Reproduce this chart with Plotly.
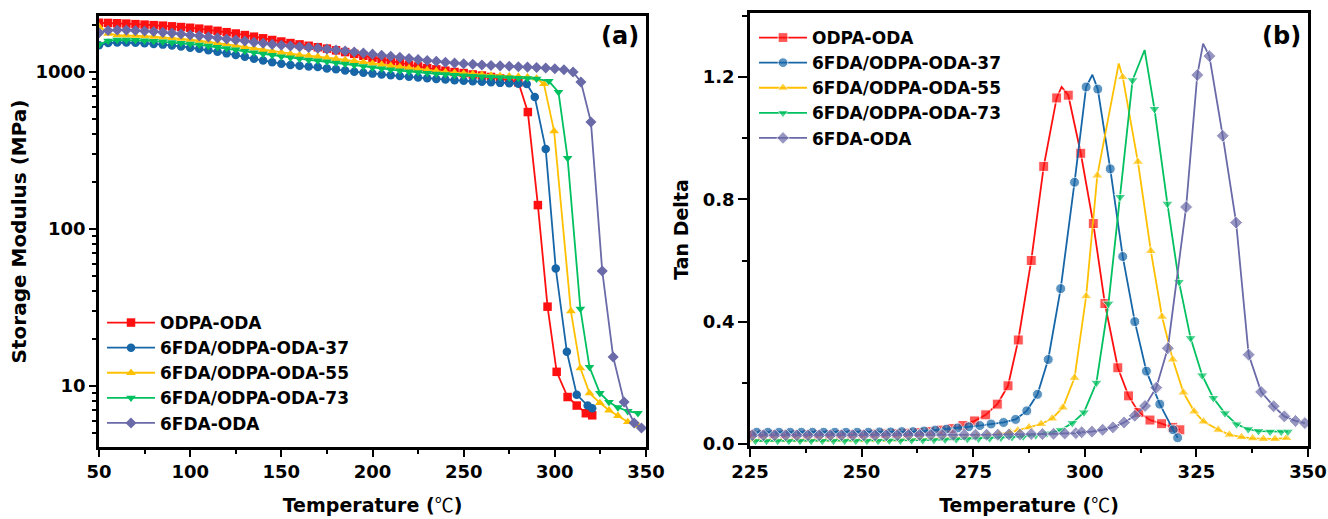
import plotly.graph_objects as go

W, H = 1328, 519

NAMES = ["ODPA-ODA", "6FDA/ODPA-ODA-37", "6FDA/ODPA-ODA-55", "6FDA/ODPA-ODA-73", "6FDA-ODA"]
COLORS = ["#FF1010", "#1766A8", "#FFC000", "#00C060", "#6A6AA8"]
SYMBOLS = ["square", "circle", "triangle-up", "triangle-down", "diamond"]

# ---------------- (a) storage modulus, MPa ----------------
SM_T_ODPA = [50, 55, 60, 65, 70, 75, 80, 85, 90, 95, 100, 105, 110, 115, 120, 125, 130, 135, 140, 145,
             150, 155, 160, 165, 170, 175, 180, 185, 190, 195, 200, 205, 210, 215, 220, 225, 230, 235, 240, 245,
             250, 255, 260, 265, 270, 275, 280, 285.2, 290.7, 296, 301, 307, 312, 317, 320.5]
SM_V_ODPA = [2060, 2055, 2045, 2035, 2020, 2005, 1990, 1975, 1955, 1935, 1915, 1890, 1860, 1830, 1795, 1760, 1720, 1680, 1640, 1600,
             1565, 1530, 1500, 1470, 1440, 1410, 1375, 1340, 1305, 1270, 1235, 1200, 1170, 1140, 1110, 1085, 1060, 1040, 1020, 1000,
             985, 965, 950, 930, 910, 885, 860, 556, 142, 32, 12.3, 8.5, 7.5, 6.7, 6.5]

SM_T_37 = [50, 55, 60, 65, 70, 75, 80, 85, 90, 95, 100, 105, 110, 115, 120, 125, 130, 135, 140, 145,
           150, 155, 160, 165, 170, 175, 180, 185, 190, 195, 200, 205, 210, 215, 220, 225, 230, 235, 240, 245,
           250, 255, 260, 265, 270, 275, 280, 284.6, 289, 295, 300.5, 306.6, 312, 318, 320.5]
SM_V_37 = [1480, 1530, 1540, 1540, 1535, 1525, 1510, 1495, 1475, 1455, 1430, 1405, 1375, 1345, 1315, 1285, 1250, 1215, 1185, 1155,
           1130, 1110, 1095, 1085, 1075, 1055, 1040, 1022, 1005, 990, 977, 965, 953, 942, 932, 922, 912, 904, 896, 888,
           880, 873, 866, 860, 853, 847, 842, 839, 693, 323, 56, 16.5, 8.8, 7.5, 7.2]

SM_T_55 = [50, 55, 60, 65, 70, 75, 80, 85, 90, 95, 100, 105, 110, 115, 120, 125, 130, 135, 140, 145,
           150, 155, 160, 165, 170, 175, 180, 185, 190, 195, 200, 205, 210, 215, 220, 225, 230, 235, 240, 245,
           250, 255, 260, 265, 270, 275, 280, 285, 290, 294, 299.6, 308.8, 314, 319, 324.7, 329.7, 334.6, 340, 345.6]
SM_V_55 = [1950, 1760, 1720, 1715, 1705, 1695, 1680, 1665, 1650, 1630, 1610, 1585, 1560, 1535, 1505, 1475, 1445, 1415, 1385, 1355,
           1330, 1305, 1285, 1270, 1255, 1235, 1215, 1195, 1175, 1155, 1135, 1115, 1095, 1078, 1062, 1046, 1030, 1015, 1000, 990,
           980, 970, 960, 952, 945, 940, 935, 928, 910, 840, 420, 30, 13, 9, 7.8, 7.0, 6.45, 5.9, 5.6]

SM_T_73 = [50, 55, 60, 65, 70, 75, 80, 85, 90, 95, 100, 105, 110, 115, 120, 125, 130, 135, 140, 145,
           150, 155, 160, 165, 170, 175, 180, 185, 190, 195, 200, 205, 210, 215, 220, 225, 230, 235, 240, 245,
           250, 255, 260, 265, 270, 275, 280, 285, 290, 296.7, 302, 307, 314, 319, 324.7, 329.7, 334.6, 340, 345.6]
SM_V_73 = [1500, 1580, 1600, 1600, 1595, 1585, 1575, 1560, 1545, 1530, 1510, 1490, 1465, 1440, 1415, 1390, 1360, 1330, 1305, 1280,
           1255, 1235, 1215, 1195, 1180, 1165, 1145, 1125, 1105, 1085, 1065, 1050, 1035, 1020, 1005, 995, 985, 975, 965, 955,
           948, 940, 935, 930, 925, 920, 916, 912, 905, 876, 745, 283, 31, 13.2, 9.0, 7.9, 7.3, 6.9, 6.7]

SM_T_6FDA = [50, 55, 60, 65, 70, 75, 80, 85, 90, 95, 100, 105, 110, 115, 120, 125, 130, 135, 140, 145,
             150, 155, 160, 165, 170, 175, 180, 185, 190, 195, 200, 205, 210, 215, 220, 225, 230, 235, 240, 245,
             250, 255, 260, 265, 270, 275, 280, 285, 290, 295, 300, 305, 310, 314.3, 319.8, 326, 332, 338, 343.5, 347.5]
SM_V_6FDA = [1780, 1840, 1855, 1850, 1840, 1825, 1810, 1790, 1770, 1745, 1720, 1700, 1675, 1650, 1625, 1600, 1575, 1550, 1525, 1500,
             1480, 1465, 1450, 1435, 1420, 1400, 1380, 1360, 1340, 1320, 1300, 1280, 1260, 1240, 1220, 1200, 1185, 1170, 1155, 1140,
             1130, 1120, 1110, 1100, 1095, 1088, 1080, 1075, 1068, 1060, 1050, 1035, 1000, 864, 480, 54, 15.3, 7.9, 5.8, 5.4]

# ---------------- (b) tan delta ----------------
TD_T_ODPA = [225.3, 227.8, 230.3, 232.8, 235.3, 237.8, 240.3, 242.8, 245.3, 247.8, 250.3, 252.8, 255.3, 257.8, 260.3, 262.8,
             265.3, 267.8, 270.2, 272.7, 275.3, 277.8, 280.4, 282.8, 285.1, 288.0, 290.8, 293.7, 294.8, 296.3, 299.1,
             301.9, 304.5, 307.4, 309.8, 312.1, 314.6, 317.2, 319.7, 321.3]
TD_V_ODPA = [0.030, 0.030, 0.030, 0.030, 0.030, 0.030, 0.030, 0.030, 0.030, 0.031, 0.031, 0.032, 0.033, 0.034, 0.035, 0.037,
             0.040, 0.045, 0.050, 0.060, 0.075, 0.095, 0.130, 0.190, 0.340, 0.600, 0.908, 1.132, 1.168, 1.141, 0.951,
             0.721, 0.459, 0.249, 0.157, 0.103, 0.078, 0.066, 0.054, 0.046]

TD_T_37 = [226.5, 229.0, 231.5, 234.0, 236.5, 239.0, 241.5, 244.0, 246.5, 249.0, 251.5, 254.0, 256.5, 259.0, 261.5, 264.0,
           266.5, 269.0, 271.5, 274.0, 276.5, 279.0, 281.8, 284.5, 287.0, 289.4, 291.8, 294.6, 297.7, 300.3, 301.7,
           302.9, 305.7, 308.5, 311.2, 313.8, 316.8, 319.8, 320.8]
TD_V_37 = [0.038, 0.038, 0.038, 0.038, 0.038, 0.038, 0.038, 0.038, 0.038, 0.038, 0.038, 0.039, 0.039, 0.040, 0.040, 0.042,
           0.045, 0.048, 0.052, 0.056, 0.060, 0.065, 0.070, 0.080, 0.108, 0.162, 0.276, 0.508, 0.856, 1.168, 1.208,
           1.161, 0.900, 0.613, 0.400, 0.238, 0.130, 0.046, 0.020]

TD_T_55 = [225.8, 228.3, 230.8, 233.3, 235.8, 238.3, 240.8, 243.3, 245.8, 248.3, 250.8, 253.3, 255.8, 258.3, 260.8, 263.3,
           265.8, 268.3, 270.8, 273.3, 275.8, 278.3, 280.8, 283.3, 285.0, 287.5, 290.2, 292.7, 295.1, 297.7, 300.3,
           302.8, 307.6, 308.5, 311.9, 314.8, 317.3, 319.7, 322.1, 324.5, 326.6, 329.9, 332.4, 335.1, 337.6, 340.0,
           342.6, 345.2]
TD_V_55 = [0.012, 0.012, 0.012, 0.012, 0.012, 0.012, 0.012, 0.012, 0.012, 0.012, 0.012, 0.013, 0.013, 0.014, 0.015, 0.016,
           0.017, 0.018, 0.020, 0.022, 0.025, 0.028, 0.032, 0.038, 0.044, 0.054, 0.065, 0.083, 0.119, 0.216, 0.483,
           0.878, 1.245, 1.200, 0.923, 0.631, 0.416, 0.276, 0.168, 0.106, 0.073, 0.046, 0.030, 0.022, 0.018, 0.016,
           0.016, 0.019]

TD_T_73 = [226.2, 228.7, 231.2, 233.7, 236.2, 238.7, 241.2, 243.7, 246.2, 248.7, 251.2, 253.7, 256.2, 258.7, 261.2, 263.7,
           266.2, 268.7, 271.2, 273.7, 276.2, 278.7, 281.2, 283.7, 286.2, 289.0, 291.5, 294.6, 297.2, 299.8, 302.6,
           305.3, 307.9, 310.7, 313.4, 315.6, 318.5, 321.1, 323.7, 326.3, 328.8, 331.4, 334.0, 336.6, 338.9, 341.5,
           344.0, 345.5]
TD_V_73 = [0.010, 0.010, 0.010, 0.010, 0.010, 0.010, 0.010, 0.010, 0.010, 0.010, 0.010, 0.010, 0.011, 0.011, 0.012, 0.012,
           0.013, 0.014, 0.015, 0.016, 0.017, 0.018, 0.020, 0.022, 0.024, 0.028, 0.034, 0.045, 0.068, 0.103, 0.200,
           0.459, 0.808, 1.190, 1.289, 1.096, 0.786, 0.530, 0.346, 0.224, 0.150, 0.100, 0.064, 0.048, 0.042, 0.040,
           0.040, 0.040]

TD_T_6FDA = [225.5, 228.0, 230.5, 233.0, 235.5, 238.0, 240.5, 243.0, 245.5, 248.0, 250.5, 253.0, 255.5, 258.0, 260.5, 263.0,
             265.5, 268.0, 270.5, 273.0, 275.5, 278.0, 280.5, 283.0, 285.5, 288.0, 290.5, 293.0, 295.5, 298.0, 299.3,
             301.6, 304.0, 306.3, 308.8, 311.2, 313.5, 316.0, 318.6, 322.7, 325.2, 326.5, 327.9, 330.9, 333.9, 336.7,
             339.5, 342.3, 344.7, 347.2, 349.3]
TD_V_6FDA = [0.028, 0.028, 0.028, 0.028, 0.028, 0.028, 0.028, 0.028, 0.028, 0.028, 0.028, 0.028, 0.028, 0.028, 0.029, 0.029,
             0.029, 0.029, 0.029, 0.030, 0.030, 0.030, 0.030, 0.031, 0.031, 0.032, 0.032, 0.033, 0.034, 0.035, 0.038,
             0.040, 0.046, 0.054, 0.070, 0.092, 0.124, 0.184, 0.313, 0.775, 1.207, 1.310, 1.269, 1.008, 0.724, 0.292,
             0.170, 0.123, 0.090, 0.075, 0.068]

SM_SERIES = [(SM_T_ODPA, SM_V_ODPA), (SM_T_37, SM_V_37), (SM_T_55, SM_V_55), (SM_T_73, SM_V_73), (SM_T_6FDA, SM_V_6FDA)]
TD_SERIES = [(TD_T_ODPA, TD_V_ODPA), (TD_T_37, TD_V_37), (TD_T_55, TD_V_55), (TD_T_73, TD_V_73), (TD_T_6FDA, TD_V_6FDA)]

FONT = "DejaVu Sans, Verdana, sans-serif"
TEMP_TITLE = ("Temperature (<span style=\"font-family:'Noto Sans CJK SC'; font-weight:normal\">℃</span>)")

fig = go.Figure()

for i, (t, v) in enumerate(SM_SERIES):
    fig.add_trace(go.Scatter(
        x=t, y=v, name=NAMES[i], mode="lines+markers",
        line=dict(color=COLORS[i], width=1.8),
        marker=dict(symbol=SYMBOLS[i], size=8.5, color=COLORS[i]),
        xaxis="x", yaxis="y", legend="legend",
    ))

for i, (t, v) in enumerate(TD_SERIES):
    # the line passes through the apex of each peak, which carries no symbol
    peak = max(v)
    sizes = [0 if val == peak else 10 for val in v]
    fig.add_trace(go.Scatter(
        x=t, y=v, name=NAMES[i], mode="lines+markers",
        line=dict(color=COLORS[i], width=1.8),
        marker=dict(symbol=SYMBOLS[i], size=sizes, color=COLORS[i]),
        xaxis="x2", yaxis="y2", legend="legend2",
    ))

tickfont = dict(family=FONT, size=18, color="black", weight="bold")
titlefont = dict(family=FONT, size=19, color="black", weight="bold")
legendfont = dict(family=FONT, size=17, color="black", weight="bold")

axis_common = dict(
    showline=True, mirror=True, linecolor="black", linewidth=2.5,
    ticks="outside", tickwidth=2, tickcolor="black", automargin=False,
    showgrid=False, zeroline=False, tickfont=tickfont,
)
minor_x = dict(ticks="outside", ticklen=4, tickwidth=2, tickcolor="black")

fig.update_layout(
    width=W, height=H,
    margin=dict(l=0, r=0, t=0, b=0),
    paper_bgcolor="white", plot_bgcolor="white",
    showlegend=True,
    xaxis=dict(domain=[99 / W, 646 / W], range=[50, 350], tick0=50, dtick=50, ticklen=7,
               ticklabelstandoff=0,
               minor=dict(dtick=25, **minor_x),
               title=dict(text=TEMP_TITLE, font=titlefont, standoff=18),
               anchor="y", **axis_common),
    yaxis=dict(domain=[72 / H, 503 / H], type="log", range=[0.611, 3.357], ticklen=7,
               tickvals=[10, 100, 1000], ticktext=["10", "100", "1000"],
               minor=dict(tickvals=[5, 6, 7, 8, 9, 20, 30, 40, 50, 60, 70, 80, 90,
                                    200, 300, 400, 500, 600, 700, 800, 900, 2000],
                          ticks="outside", ticklen=4, tickwidth=2, tickcolor="black"),
               title=dict(text="Storage Modulus (MPa)", font=dict(titlefont, size=20), standoff=4),
               anchor="x", **axis_common),
    xaxis2=dict(domain=[750 / W, 1308 / W], range=[225, 350], tick0=225, dtick=25, ticklen=8,
                ticklabelstandoff=0,
                minor=dict(dtick=12.5, **minor_x),
                title=dict(text=TEMP_TITLE, font=titlefont, standoff=18),
                anchor="y2", **axis_common),
    yaxis2=dict(domain=[73 / H, 506 / H], range=[-0.007, 1.41], tick0=0, dtick=0.4, ticklen=9,
                tickformat=".1f", ticklabelstandoff=0,
                minor=dict(dtick=0.2, ticks="outside", ticklen=5, tickwidth=2, tickcolor="black"),
                title=dict(text="Tan Delta", font=titlefont, standoff=10),
                anchor="x2", **axis_common),
    legend=dict(x=102 / W, y=1 - 305 / H, xanchor="left", yanchor="top",
                bgcolor="rgba(0,0,0,0)", itemwidth=48, tracegroupgap=0, font=legendfont),
    legend2=dict(x=754 / W, y=1 - 20 / H, xanchor="left", yanchor="top",
                 bgcolor="rgba(0,0,0,0)", itemwidth=48, tracegroupgap=0, font=legendfont),
    annotations=[
        dict(text="(a)", x=641 / W, y=1 - 36 / H, xref="paper", yref="paper",
             xanchor="right", yanchor="middle", showarrow=False,
             font=dict(family=FONT, size=24, color="black", weight="bold")),
        dict(text="(b)", x=1303 / W, y=1 - 36 / H, xref="paper", yref="paper",
             xanchor="right", yanchor="middle", showarrow=False,
             font=dict(family=FONT, size=24, color="black", weight="bold")),
    ],
)

fig.write_html("out.html")
